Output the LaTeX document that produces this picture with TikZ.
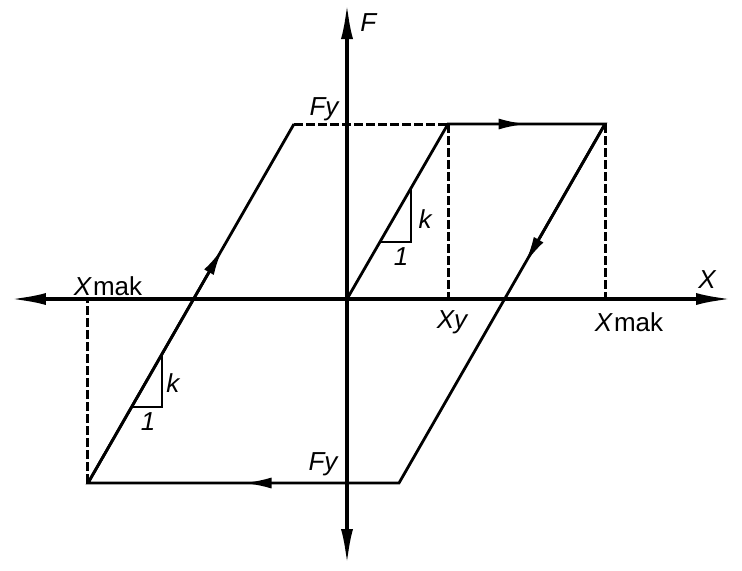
\documentclass[tikz,border=0pt]{standalone}
\usepackage{fontspec}
\setmainfont{Liberation Sans}
\usepackage{tikz}
\usetikzlibrary{arrows.meta,calc}

\tikzset{
  eje/.style={line width=1.8pt},
  lazo/.style={line width=1.4pt,line join=miter},
  guia/.style={line width=1.5pt,dash pattern=on 4.5pt off 1.5pt},
  flecha/.style={lazo,-{Latex[length=14pt,width=5.5pt]}},
  etiq/.style={font=\fontsize{13}{15}\selectfont\itshape,inner sep=1pt},
}

\begin{document}
\begin{tikzpicture}[x=0.5pt,y=0.5pt,>={Latex[length=18pt,width=6pt]}]

\useasboundingbox (-347,-271) rectangle (395,299);

% Puntos del lazo
\coordinate (O) at (0,0);
\coordinate (A) at (-53,175);
\coordinate (B) at (101,175);
\coordinate (C) at (258,175);
\coordinate (D) at (-259,-184);
\coordinate (E) at (52,-184);
\coordinate (Bx) at (101,0);
\coordinate (Cx) at (258,0);
\coordinate (Dx) at (-259,0);

% Extremos de los ejes
\coordinate (ejeIzq) at (-337,0);
\coordinate (ejeDer) at (385,0);
\coordinate (ejeArr) at (0,296);
\coordinate (ejeAba) at (0,-266);

% Ejes
\draw[eje,<->] (ejeIzq) -- (ejeDer);
\draw[eje,<->] (ejeAba) -- (ejeArr);

% Guias discontinuas
\draw[guia] (A) -- (B);
\draw[guia] (B) -- (Bx);
\draw[guia] (C) -- (Cx);
\draw[guia] (D) -- (Dx);

% Lazo
\draw[lazo] (O) -- (B) -- (C) -- (E) -- (D) -- (A);

\draw[flecha] (B) -- ($(B)!0.5!(C)$);
\draw[flecha] (C) -- ($(C)!0.39!(E)$);
\draw[flecha] (E) -- ($(E)!0.5!(D)$);
\draw[flecha] (D) -- ($(D)!0.655!(A)$);

% Pendiente k
\draw[lazo] (33,57) -- (64,57) -- (64,110);
\draw[lazo] (-215,-108) -- (-185,-108) -- (-185,-56);

% Etiquetas
\node[etiq,anchor=west] (lF) at (11,276) {F};
\node[etiq] (lX) at (360,19) {X};
\node[etiq] (lFyA) at (-23,190) {Fy};
\node[etiq] (lFyB) at (-24,-165) {Fy};
\node[etiq] (lXy) at (105,-23) {Xy};
\node[etiq] (lXmA) at (282,-23) {X\/\hspace{0.5pt}\upshape mak};
\node[etiq,anchor=base] (lXmB) at (-239,4) {X\/\hspace{0.5pt}\upshape mak};
\node[etiq] (lkA) at (78,80) {k};
\node[etiq] (l1A) at (54,42) {1};
\node[etiq] (lkB) at (-174,-84) {k};
\node[etiq] (l1B) at (-199,-123) {1};

\end{tikzpicture}
\end{document}
